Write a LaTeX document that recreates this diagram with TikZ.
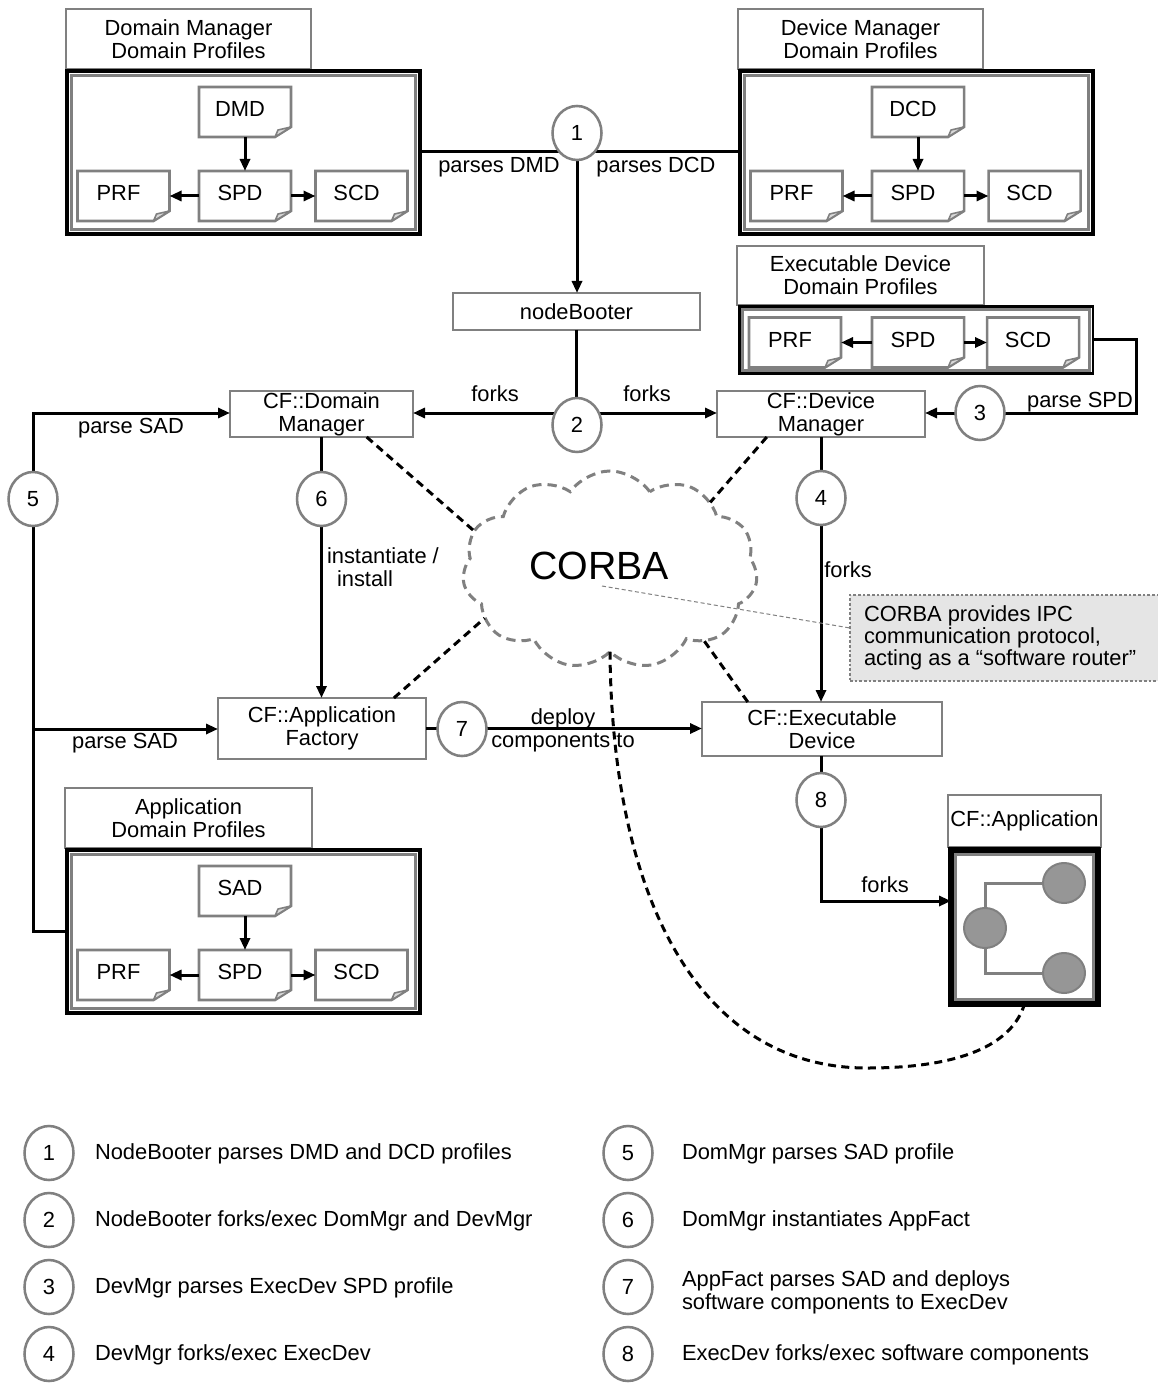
\documentclass[tikz,border=0pt]{standalone}
\usepackage{fontspec}
\setmainfont{Liberation Sans}
\usetikzlibrary{arrows.meta,shapes.geometric,shapes.symbols,calc}

\definecolor{boxgray}{gray}{0.5}
\definecolor{notefill}{gray}{0.9}
\definecolor{puckgray}{gray}{0.59}
\definecolor{foldgray}{gray}{0.85}

\tikzset{
  wh/.style 2 args={minimum width=#1*0.75pt, minimum height=#2*0.75pt},
  every node/.style={inner sep=0pt, outer sep=0pt, font=\fontsize{16.4}{17.4}\selectfont},
  conn/.style={line width=2.25pt, draw=black},
  arr/.style={conn, -{Triangle[length=9pt,width=7.5pt]}},
  procbox/.style={rectangle, draw=boxgray, line width=1.9pt, fill=white, align=center},
  thickbox/.style={rectangle, draw=black, line width=3pt},
  docbox/.style={rectangle, wh={92}{50}},
  numc/.style={ellipse, draw=boxgray, line width=1.9pt, fill=white, wh={49}{54}},
  puck/.style={ellipse, draw=boxgray, line width=1.5pt, fill=puckgray, wh={42}{40}},
  dline/.style={draw=black, line width=2.25pt, dash pattern=on 6pt off 4pt},
}

% document icon with a folded lower right corner: name, x, y, label
\newcommand\profdoc[4]{%
  \node[docbox] (#1) at (#2,#3) {};
  \draw[boxgray, line width=1.9pt, fill=white]
    (#1.north west) -- (#1.north east) -- ([shift={(0,-10)}]#1.south east)
    -- ([shift={(-16,0)}]#1.south east) -- (#1.south west) -- cycle;
  \draw[boxgray, line width=1.2pt, fill=foldgray, line join=round]
    ([shift={(0,-10)}]#1.south east) -- ([shift={(-16,0)}]#1.south east)
    -- ([shift={(-13,-7)}]#1.south east) -- cycle;
  \node (#1-t) at ([shift={(-5,-3)}]#1.center) {#4};
}
% gray frame inside a black profile frame: node, inset, width
\newcommand\innerframe[3]{%
  \draw[boxgray, line width=#3] ([shift={(#2,#2)}]#1.north west) rectangle ([shift={(-#2,-#2)}]#1.south east);
}

\begin{document}
\begin{tikzpicture}[x=0.75pt,y=-0.75pt]
\useasboundingbox (0,0) rectangle (1157,1383);
\fill[white] (0,0) rectangle (1157,1383);

% ---------- Domain Manager profiles
\node[procbox, wh={245}{60}] (tlT) at (188.5,39) {Domain Manager\\Domain Profiles};
\node[thickbox, wh={353}{163}] (tlB) at (243.5,152.5) {};
\innerframe{tlB}{4.5}{2.25pt}
\profdoc{tlDMD}{245}{112}{DMD}
\profdoc{tlSPD}{245}{196}{SPD}
\profdoc{tlPRF}{123.5}{196}{PRF}
\profdoc{tlSCD}{361.5}{196}{SCD}
\draw[arr] (tlDMD) -- (tlSPD);
\draw[arr] (tlSPD) -- (tlPRF);
\draw[arr] (tlSPD) -- (tlSCD);

% ---------- Device Manager profiles
\node[procbox, wh={245}{60}] (trT) at (860.5,39) {Device Manager\\Domain Profiles};
\node[thickbox, wh={353}{163}] (trB) at (916.5,152.5) {};
\innerframe{trB}{4.5}{2.25pt}
\profdoc{trDCD}{918}{112}{DCD}
\profdoc{trSPD}{918}{196}{SPD}
\profdoc{trPRF}{796.5}{196}{PRF}
\profdoc{trSCD}{1034.5}{196}{SCD}
\draw[arr] (trDCD) -- (trSPD);
\draw[arr] (trSPD) -- (trPRF);
\draw[arr] (trSPD) -- (trSCD);

% ---------- Executable Device profiles
\node[procbox, wh={247}{59}] (edT) at (860.5,275.5) {Executable Device\\Domain Profiles};
\node[rectangle, draw=black, line width=1.9pt, wh={353.5}{67.5}] (edB) at (916,340) {};
\innerframe{edB}{3}{2.25pt}
\profdoc{edPRF}{795}{342.5}{PRF}
\profdoc{edSPD}{918}{342.5}{SPD}
\profdoc{edSCD}{1033}{342.5}{SCD}
\draw[arr] (edSPD) -- (edPRF);
\draw[arr] (edSPD) -- (edSCD);

% ---------- Application profiles
\node[procbox, wh={247}{60}] (apT) at (188.5,818) {Application\\Domain Profiles};
\node[thickbox, wh={353}{163}] (apB) at (243.5,931.5) {};
\innerframe{apB}{4.5}{2.25pt}
\profdoc{apSAD}{245}{891}{SAD}
\profdoc{apSPD}{245}{975}{SPD}
\profdoc{apPRF}{123.5}{975}{PRF}
\profdoc{apSCD}{361.5}{975}{SCD}
\draw[arr] (apSAD) -- (apSPD);
\draw[arr] (apSPD) -- (apPRF);
\draw[arr] (apSPD) -- (apSCD);

% ---------- framework processes
\node[procbox, wh={247}{37}] (nb) at (576.5,311.5) {nodeBooter};
\node[procbox, wh={183}{46}] (dm) at (321.5,414) {CF::Domain\\Manager};
\node[procbox, wh={208}{46}] (dv) at (821,414) {CF::Device\\Manager};
\node[procbox, wh={208}{61}] (af) at (322,728.5) {CF::Application\\Factory};
\node[procbox, wh={240}{54}] (ed) at (822,729) {CF::Executable\\Device};

% ---------- running application
\node[procbox, wh={153}{52}] (appT) at (1024.5,821) {CF::Application};
\node[rectangle, draw=black, line width=4.5pt, wh={147}{154}] (appB) at (1024.5,927) {};
\innerframe{appB}{4.5}{2.25pt}
\node[puck] (pT) at (1064,883) {};
\node[puck] (pM) at (985,928) {};
\node[puck] (pB) at (1064,973) {};
\draw[boxgray, line width=2.25pt] (pM) |- (pT);
\draw[boxgray, line width=2.25pt] (pM) |- (pB);

% ---------- CORBA bus
\node[cloud, cloud puffs=11, cloud puff arc=110, aspect=1.5, draw=boxgray, fill=white,
      line width=2.25pt, dash pattern=on 7pt off 4.5pt, wh={295}{198}] (corba) at (610,570) {};
\node[font=\fontsize{29.5}{30}\selectfont, anchor=base] (corbat) at (599,579) {CORBA};

% ---------- junction points of the connectors
\coordinate (k1) at (577,152);
\coordinate (k2) at (577,413);
\coordinate (k3) at (1136,413);
\coordinate (k5a) at (33,413);
\coordinate (k5b) at (33,729);
\coordinate (k8) at (821,901);
\coordinate (dip) at (867,1068);
\coordinate (np) at (602,586);

% ---------- control flow
\draw[conn] (tlB.east |- k1) -- (trB.west |- k1);
\draw[arr] (k1) -- (k1 |- nb.north);
\draw[conn] (nb.south) -- (nb.south |- k2);
\draw[arr] (k2) -- (dm.east |- k2);
\draw[arr] (k2) -- (dv.west |- k2);
\draw[arr] (edB.east) -| (k3) -- (dv.east |- k3);
\draw[arr] (dv.south) -- (dv.south |- ed.north);
\draw[arr] (apB.west) -| (k5a) -- (dm.west |- k5a);
\draw[arr] (k5b) -- (af.west |- k5b);
\draw[arr] (dm.south) -- (dm.south |- af.north);
\draw[arr] (af.east) -- (ed.west |- af.east);
\draw[arr] (ed.south -| k8) -- (k8) -- (appB.west |- k8);

% ---------- CORBA links
\draw[dline] (dm.-27) -- (corba.164);
\draw[dline] (dv.-157) -- (corba.34);
\draw[dline] (af.23) -- (corba.201);
\draw[dline] (ed.160) -- (corba.323);
\draw[dline] (corba.south) .. controls (612,900) and (700,1068) .. (dip)
  .. controls (960,1068) and (1012,1045) .. (appB.south);

% ---------- note
\node[rectangle, draw=boxgray, line width=0.8pt, dash pattern=on 2pt off 1.5pt,
      fill=notefill, wh={310}{86}] (note) at (1005,638) {};
\node[anchor=west, align=left, font=\fontsize{16.4}{16.6}\selectfont] (notet) at (864,638)
  {CORBA provides IPC\\communication protocol,\\acting as a “software router”};
\draw[boxgray, line width=0.75pt, dash pattern=on 3pt off 2pt] (np) -- ([shift={(0,-10)}]note.west);

% ---------- step markers
\node[numc] (c1) at (577,133) {1};
\node[numc] (c2) at (577,425) {2};
\node[numc] (c3) at (980,413) {3};
\node[numc] (c4) at (821,498) {4};
\node[numc] (c5) at (33,499) {5};
\node[numc] (c6) at (321.5,499) {6};
\node[numc] (c7) at (462,729) {7};
\node[numc] (c8) at (821,800) {8};

% ---------- connector labels
\node[anchor=base] (lbDMD) at (499,173) {parses DMD};
\node[anchor=base] (lbDCD) at (656,173) {parses DCD};
\node[anchor=base] (lbF1) at (495,402) {forks};
\node[anchor=base] (lbF2) at (647,402) {forks};
\node[anchor=base] (lbSPD) at (1080,407) {parse SPD};
\node[anchor=base] (lbSAD1) at (131,433) {parse SAD};
\node[anchor=base] (lbSAD2) at (125,748) {parse SAD};
\node[anchor=base west] (lbI1) at (327,563) {instantiate /};
\node[anchor=base west] (lbI2) at (337,586) {install};
\node[anchor=base] (lbF3) at (848,577) {forks};
\node[anchor=base] (lbD1) at (563,724) {deploy};
\node[anchor=base] (lbD2) at (563,747) {components to};
\node[anchor=base] (lbF4) at (885,892) {forks};

% ---------- legend
\node[numc] (l1) at (49,1153) {1};
\node[anchor=base west] (t1) at (95,1159) {NodeBooter parses DMD and DCD profiles};
\node[numc] (l2) at (49,1220) {2};
\node[anchor=base west] (t2) at (95,1226) {NodeBooter forks/exec DomMgr and DevMgr};
\node[numc] (l3) at (49,1287) {3};
\node[anchor=base west] (t3) at (95,1293) {DevMgr parses ExecDev SPD profile};
\node[numc] (l4) at (49,1354) {4};
\node[anchor=base west] (t4) at (95,1360) {DevMgr forks/exec ExecDev};
\node[numc] (l5) at (628,1153) {5};
\node[anchor=base west] (t5) at (682,1159) {DomMgr parses SAD profile};
\node[numc] (l6) at (628,1220) {6};
\node[anchor=base west] (t6) at (682,1226) {DomMgr instantiates AppFact};
\node[numc] (l7) at (628,1287) {7};
\node[anchor=base west] (t7a) at (682,1286) {AppFact parses SAD and deploys};
\node[anchor=base west] (t7b) at (682,1309) {software components to ExecDev};
\node[numc] (l8) at (628,1354) {8};
\node[anchor=base west] (t8) at (682,1360) {ExecDev forks/exec software components};
\end{tikzpicture}
\end{document}
